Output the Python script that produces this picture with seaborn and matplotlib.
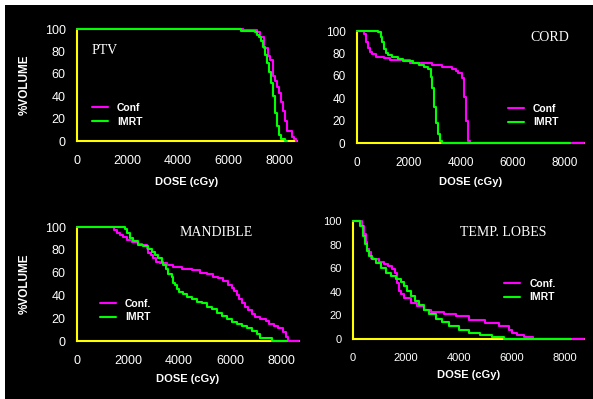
import matplotlib
matplotlib.use("Agg")
import matplotlib.pyplot as plt
from matplotlib.patches import Rectangle
import seaborn as sns

# DVH curves (dose in cGy, % volume)
ptv_dose_conf = [0, 6570, 7100, 7250, 7400, 7545, 7620, 7755, 7835, 7915, 7990, 8070, 8150, 8230, 8310, 8490, 8570, 8650, 8700]
ptv_vol_conf = [100, 99, 97, 93, 83, 76, 72, 58, 53.5, 48.5, 42.5, 35, 27, 18, 9, 4, 1.8, 0, 0]
ptv_dose_imrt = [0, 6500, 7030, 7110, 7190, 7270, 7350, 7430, 7500, 7580, 7660, 7740, 7820, 7900, 7980, 8060, 8220, 8310]
ptv_vol_imrt = [100, 98.5, 97, 95, 92.5, 89.5, 84, 77, 70, 62, 52, 40, 25, 13, 5.5, 2, 0, 0]

cord_dose_conf = [0, 280, 360, 435, 515, 590, 745, 1050, 1285, 2055, 2900, 3285, 3670, 3825, 3900, 4055, 4130, 4210, 4285, 4365, 8750]
cord_vol_conf = [100, 97, 89.9, 84.5, 81, 79.2, 77.1, 75.6, 73.8, 71.4, 69.9, 68.2, 66.4, 64.6, 62.8, 57.7, 41.4, 19.6, 2.1, 0, 0]
cord_dose_imrt = [0, 820, 910, 975, 1050, 1130, 1205, 1360, 1590, 1785, 2170, 2385, 2590, 2745, 2850, 2900, 2975, 3055, 3130, 3210, 3285, 8200]
cord_vol_imrt = [100, 98.8, 94.9, 89.9, 83.9, 80.6, 78.9, 77.1, 75.3, 73.5, 71.7, 69.9, 68.2, 66.4, 59.2, 48.8, 32.4, 18.2, 7.7, 2.1, 0, 0]

mand_dose_conf = [0, 1460, 1560, 1690, 1820, 1950, 2140, 2400, 2540, 2730, 2800, 2890, 2990, 3100, 3250, 3520, 3780, 4100, 4500, 4820,
                  5080, 5340, 5540, 5740, 5930, 6060, 6150, 6260, 6360, 6460, 6590, 6720, 6850, 6980, 7170, 7410, 7540, 7720, 7890, 8060,
                  8180, 8280, 8700]
mand_vol_conf = [100, 97, 94.5, 93, 91, 89, 87, 85.5, 84, 82, 77.5, 75.5, 72.5, 69.5, 68, 66.5, 65, 63.5, 62, 60,
                 58.5, 56.5, 55, 52.5, 49.5, 46.5, 43.5, 40, 36.5, 33.5, 30, 27, 24, 21, 19, 17.5, 15, 13, 11, 8,
                 3.5, 0, 0]
mand_dose_imrt = [0, 1880, 1970, 2080, 2210, 2400, 2600, 2800, 2930, 3060, 3190, 3320, 3380, 3490, 3580, 3710, 3750, 3840, 3910, 4010,
                  4140, 4300, 4500, 4690, 4890, 5080, 5280, 5480, 5670, 5870, 6060, 6260, 6460, 6650, 6850, 7040, 7170, 7630, 8230]
mand_vol_imrt = [100, 98, 94.5, 90.5, 88, 84.5, 83, 80.5, 78, 75.5, 72.5, 69.5, 66.5, 63.5, 59, 56, 50.5, 49, 46, 43,
                 41, 38.5, 36.5, 34.5, 33, 30, 28, 25, 22, 19.5, 17, 15, 13, 11, 8.5, 6, 2.8, 0, 0]

temp_dose_conf = [0, 325, 415, 475, 540, 605, 665, 755, 980, 1170, 1330, 1460, 1585, 1670, 1735, 1800, 1925, 2175, 2430, 2680,
                  2930, 3435, 3875, 4375, 5005, 5510, 5885, 6010, 6200, 6455, 6800, 8730]
temp_vol_conf = [100, 96, 89, 82, 76, 73.5, 69, 67.5, 65.5, 63.5, 61.5, 59, 56, 47.5, 40.5, 38, 35, 30.5, 28, 25,
                 23, 21, 19.5, 16.5, 13.5, 11, 8, 5.5, 3.5, 1.7, 0, 0]
temp_dose_imrt = [0, 250, 375, 450, 525, 605, 705, 855, 1045, 1230, 1420, 1610, 1800, 1925, 2050, 2175, 2340, 2490, 2680, 2865,
                  3120, 3370, 3620, 4000, 4380, 4815, 5255, 5700, 8240]
temp_vol_imrt = [100, 96, 87.5, 80.5, 74.5, 70.5, 67.5, 64.5, 60.5, 56, 53, 50.5, 48.5, 45, 40.5, 36.5, 32, 28.5, 24.5, 21,
                 17, 14, 11, 8, 5, 3.5, 1.7, 0, 0]

x_ticks = [0, 2000, 4000, 6000, 8000]
y_ticks = [0, 20, 40, 60, 80, 100]

MAGENTA = "#ff00ff"
GREEN = "#00ff00"
YELLOW = "#ffff00"

sns.set_style("dark")
plt.rcParams["font.family"] = ["Liberation Sans", "DejaVu Sans"]

W, H = 593, 399
fig = plt.figure(figsize=(W / 100, H / 100), dpi=100, facecolor="white")
fig.patches.append(Rectangle((5 / W, 0), 1 - 5 / W, (H - 5) / H, transform=fig.transFigure,
                             facecolor="black", edgecolor="none", zorder=-1))


def px_axes(left, right, top, bottom):
    return fig.add_axes([left / W, (H - bottom) / H, (right - left) / W, (bottom - top) / H])


panels = [
    dict(box=(77, 297, 29, 141), xmax=8700, title="PTV", tpos=(0.068, 0.81), tick_fs=9,
         labels=("Conf", "IMRT"), leg=(0.068, 0.234), xlab_y=-0.32, ylabel=True,
         conf=(ptv_dose_conf, ptv_vol_conf), imrt=(ptv_dose_imrt, ptv_vol_imrt)),
    dict(box=(357, 584, 31, 143), xmax=8750, title="CORD", tpos=(0.762, 0.946), tick_fs=8.5,
         labels=("Conf", "IMRT"), leg=(0.665, 0.245), xlab_y=-0.30, ylabel=False,
         conf=(cord_dose_conf, cord_vol_conf), imrt=(cord_dose_imrt, cord_vol_imrt)),
    dict(box=(77, 299, 227, 341), xmax=8700, title="MANDIBLE", tpos=(0.464, 0.95), tick_fs=9,
         labels=("Conf.", "IMRT"), leg=(0.104, 0.268), xlab_y=-0.29, ylabel=True,
         conf=(mand_dose_conf, mand_vol_conf), imrt=(mand_dose_imrt, mand_vol_imrt)),
    dict(box=(353, 584, 221, 339), xmax=8730, title="TEMP. LOBES", tpos=(0.464, 0.90), tick_fs=8,
         labels=("Conf.", "IMRT"), leg=(0.655, 0.412), xlab_y=-0.26, ylabel=False,
         conf=(temp_dose_conf, temp_vol_conf), imrt=(temp_dose_imrt, temp_vol_imrt)),
]

for p in panels:
    ax = px_axes(*p["box"])
    ax.set_facecolor("black")
    sns.lineplot(x=p["conf"][0], y=p["conf"][1], ax=ax, color=MAGENTA, linewidth=1.5,
                 drawstyle="steps-post", estimator=None, sort=False, label=p["labels"][0], clip_on=False)
    sns.lineplot(x=p["imrt"][0], y=p["imrt"][1], ax=ax, color=GREEN, linewidth=1.5,
                 drawstyle="steps-post", estimator=None, sort=False, label=p["labels"][1], clip_on=False)
    ax.set_xlim(0, p["xmax"])
    ax.set_ylim(0, 100)
    ax.set_xticks(x_ticks)
    ax.set_yticks(y_ticks)
    ax.grid(False)
    for s in ["top", "right"]:
        ax.spines[s].set_visible(False)
    for s in ["left", "bottom"]:
        ax.spines[s].set_color(YELLOW)
        ax.spines[s].set_linewidth(1.5)
        ax.spines[s].set_zorder(1)
    ax.tick_params(axis="both", colors=YELLOW, direction="out", length=2.2, width=1.5,
                   labelcolor="white", labelsize=p["tick_fs"])
    ax.tick_params(axis="x", pad=8)
    ax.tick_params(axis="y", pad=6)

    ax.set_xlabel("DOSE (cGy)", color="white", fontsize=8, fontweight="bold")
    ax.xaxis.set_label_coords(0.5, p["xlab_y"])
    if p["ylabel"]:
        ax.set_ylabel("%VOLUME", color="white", fontsize=8.5, fontweight="bold")
        ax.yaxis.set_label_coords(-0.236, 0.5)
        ax.yaxis.label.set_verticalalignment("center")
    else:
        ax.set_ylabel("")

    ax.text(p["tpos"][0], p["tpos"][1], p["title"], transform=ax.transAxes, color="white",
            fontsize=10, family="Liberation Serif", ha="left", va="center")

    leg = ax.legend(loc="center left", bbox_to_anchor=p["leg"], frameon=False, borderpad=0,
                    borderaxespad=0, handlelength=1.5, handletextpad=0.9, labelspacing=0.35,
                    prop={"size": 7.5, "weight": "bold"})
    for t in leg.get_texts():
        t.set_color("white")

fig.savefig("out.png", dpi=100, facecolor=fig.get_facecolor())
